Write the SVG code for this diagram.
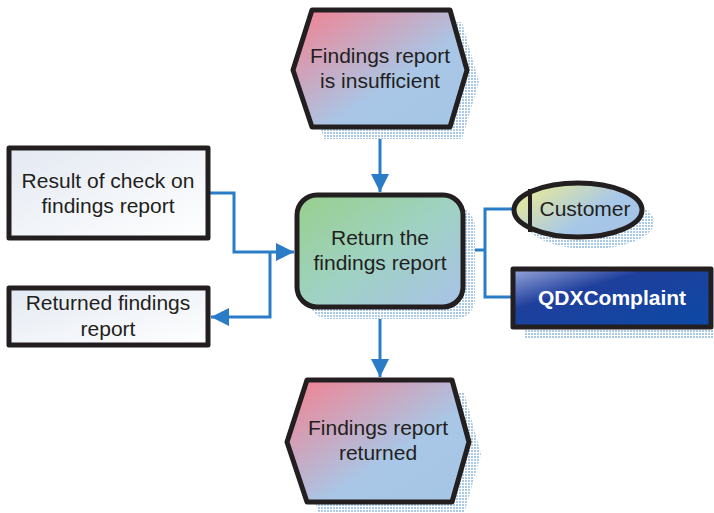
<svg xmlns="http://www.w3.org/2000/svg" width="714" height="513" viewBox="0 0 714 513">
<defs>
<pattern id="dots" width="3" height="3" patternUnits="userSpaceOnUse">
<rect width="3" height="3" fill="#ffffff"/>
<rect width="2" height="2" fill="#a9c9e6"/>
</pattern>
<linearGradient id="gEvent" x1="0" y1="0" x2="1" y2="1">
<stop offset="0" stop-color="#f5808f"/>
<stop offset="0.6" stop-color="#a9c6e6"/>
<stop offset="1" stop-color="#a5c6e6"/>
</linearGradient>
<linearGradient id="gFunc" x1="0" y1="0" x2="1" y2="1">
<stop offset="0" stop-color="#98cf8c"/>
<stop offset="0.5" stop-color="#9fd2c2"/>
<stop offset="1" stop-color="#a9c2e8"/>
</linearGradient>
<linearGradient id="gCust" x1="0" y1="0" x2="1" y2="0.6">
<stop offset="0" stop-color="#f4f089"/>
<stop offset="0.7" stop-color="#a8c8e8"/>
<stop offset="1" stop-color="#a5c4e6"/>
</linearGradient>
<linearGradient id="gDoc" x1="0" y1="0" x2="1" y2="1">
<stop offset="0" stop-color="#e3e9f2"/>
<stop offset="1" stop-color="#ffffff"/>
</linearGradient>
<linearGradient id="gSys" x1="0" y1="0" x2="1" y2="1">
<stop offset="0" stop-color="#9aa8dc"/>
<stop offset="0.35" stop-color="#1f3f9c"/>
<stop offset="1" stop-color="#0b4aa6"/>
</linearGradient>
<marker id="arr" markerWidth="6" markerHeight="6" refX="6" refY="3" orient="auto" markerUnits="strokeWidth">
<path d="M0,0 L6,3 L0,6 Z" fill="#2a7cc7"/>
</marker>
<style>
.shape{stroke:#231f20;stroke-width:5;stroke-linejoin:round}
.shadow{fill:url(#dots);stroke:none}
.t{font-family:"Liberation Sans",Arial,sans-serif;font-size:21px;fill:#231f20;text-anchor:middle}
.conn{fill:none;stroke:#2a7cc7;stroke-width:3}
</style>
</defs>

<g id="connectors">
<path class="conn" d="M380,128 V192" marker-end="url(#arr)"/>
<path class="conn" d="M380,308 V377" marker-end="url(#arr)"/>
<path class="conn" d="M208,193 H234 V252 H294" marker-end="url(#arr)"/>
<path class="conn" d="M270,252 V317 H211" marker-end="url(#arr)"/>
<path class="conn" d="M463,250 H485 V209 H513 M485,250 V297 H512"/>
</g>

<g id="event-insufficient">
<polygon class="shadow" points="324,22 462,22 479,82 462,139 324,139 305,82"/>
<polygon class="shape" fill="url(#gEvent)" points="312,10 450,10 467,70 450,127 312,127 293,70"/>
<text class="t" x="380" y="63">Findings report</text>
<text class="t" x="380" y="88">is insufficient</text>
</g>

<g id="function-return">
<rect class="shadow" x="309" y="207" width="166" height="112" rx="20"/>
<rect class="shape" fill="url(#gFunc)" x="297" y="195" width="166" height="112" rx="20"/>
<text class="t" x="380" y="245">Return the</text>
<text class="t" x="380" y="270">findings report</text>
</g>

<g id="event-returned">
<polygon class="shadow" points="319,392 464,392 481,454 464,514 319,514 299,454"/>
<polygon class="shape" fill="url(#gEvent)" points="307,380 452,380 469,442 452,502 307,502 287,442"/>
<text class="t" x="378" y="435">Findings report</text>
<text class="t" x="378" y="460">returned</text>
</g>

<g id="doc-result">
<rect class="shape" fill="url(#gDoc)" x="9" y="148" width="199" height="90"/>
<text class="t" x="108" y="188">Result of check on</text>
<text class="t" x="108" y="213">findings report</text>
</g>

<g id="doc-returned">
<rect class="shape" fill="url(#gDoc)" x="9" y="288" width="199" height="57"/>
<text class="t" x="108" y="310">Returned findings</text>
<text class="t" x="108" y="336">report</text>
</g>

<g id="org-customer">
<ellipse class="shadow" cx="590" cy="222" rx="64" ry="27"/>
<ellipse class="shape" fill="url(#gCust)" cx="578" cy="210" rx="64" ry="27"/>
<line x1="530" y1="189" x2="530" y2="232" stroke="#231f20" stroke-width="4"/>
<text class="t" x="585" y="216">Customer</text>
</g>

<g id="sys-qdx">
<rect class="shadow" x="524" y="280" width="190" height="59"/>
<rect class="shape" fill="url(#gSys)" x="513" y="269" width="198" height="58" stroke-width="4"/>
<text x="612" y="305" font-family="Liberation Sans,Arial,sans-serif" font-size="21" font-weight="bold" fill="#ffffff" text-anchor="middle">QDXComplaint</text>
</g>
</svg>
